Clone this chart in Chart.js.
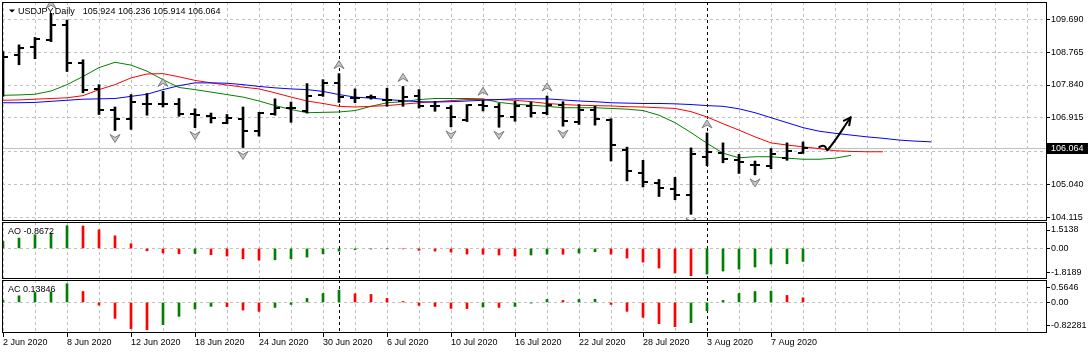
<!DOCTYPE html>
<html>
<head>
	<meta charset="UTF-8">
	<title>USDJPY,Daily</title>
	<script src="https://cdn.jsdelivr.net/npm/chart.js@4.4.1/dist/chart.umd.min.js"></script>
	<style>
		body { margin: 0; background: #fff; }
		#wrap { position: relative; width: 1091px; height: 353px; overflow: hidden; }
		canvas { position: absolute; left: 0; }
		#price { top: 0; }
		#ao { top: 221px; }
		#ac { top: 280px; }
	</style>
</head>
<body>
<div id="wrap">
	<canvas id="price" width="1091" height="221"></canvas>
	<canvas id="ao" width="1091" height="59"></canvas>
	<canvas id="ac" width="1091" height="73"></canvas>
</div>
<script>
	// trading days shown on the chart
	var dates = ['2 Jun 2020','3 Jun 2020','4 Jun 2020','5 Jun 2020','8 Jun 2020','9 Jun 2020','10 Jun 2020','11 Jun 2020','12 Jun 2020',
		'15 Jun 2020','16 Jun 2020','17 Jun 2020','18 Jun 2020','19 Jun 2020','22 Jun 2020','23 Jun 2020','24 Jun 2020','25 Jun 2020','26 Jun 2020',
		'29 Jun 2020','30 Jun 2020','1 Jul 2020','2 Jul 2020','3 Jul 2020','6 Jul 2020','7 Jul 2020','8 Jul 2020','9 Jul 2020','10 Jul 2020',
		'13 Jul 2020','14 Jul 2020','15 Jul 2020','16 Jul 2020','17 Jul 2020','20 Jul 2020','21 Jul 2020','22 Jul 2020','23 Jul 2020','24 Jul 2020',
		'27 Jul 2020','28 Jul 2020','29 Jul 2020','30 Jul 2020','31 Jul 2020','3 Aug 2020','4 Aug 2020','5 Aug 2020','6 Aug 2020','7 Aug 2020',
		'10 Aug 2020','11 Aug 2020'];

	// OHLC
	var opens  = [107.57,108.69,108.90,109.11,109.53,108.46,107.73,107.13,106.89,107.31,107.31,107.31,107.01,106.96,106.78,106.87,106.54,
		107.01,107.20,107.10,107.57,107.91,107.48,107.49,107.43,107.40,107.52,107.25,107.20,106.85,107.27,107.22,106.94,107.24,107.04,
		107.28,106.79,107.15,106.85,106.00,105.37,105.09,104.92,104.73,105.82,105.93,105.74,105.59,105.56,105.79,105.924];
	var highs  = [108.78,108.97,109.18,109.86,109.67,108.55,107.85,107.22,107.57,107.60,107.66,107.46,107.17,107.05,107.01,107.22,107.07,
		107.45,107.36,107.88,107.99,108.16,107.73,107.56,107.75,107.80,107.71,107.38,107.26,107.29,107.41,107.32,107.38,107.36,107.53,
		107.37,107.29,107.24,106.89,106.09,105.72,105.18,105.24,106.07,106.49,106.21,105.89,105.70,106.05,106.21,106.236];
	var lows   = [107.52,108.41,108.58,109.06,108.22,107.62,107.01,106.56,106.59,106.99,107.22,106.96,106.64,106.77,106.75,106.08,106.40,
		106.99,106.79,107.05,107.52,107.35,107.34,107.44,107.24,107.24,107.19,107.10,106.66,106.81,107.11,106.65,106.82,106.94,107.00,
		106.68,106.73,106.71,105.70,105.14,104.97,104.70,104.61,104.20,105.57,105.65,105.35,105.31,105.48,105.72,105.914];
	var closes = [108.64,108.88,109.13,109.53,108.46,107.71,107.13,106.89,107.35,107.30,107.31,107.01,107.00,106.91,106.92,106.54,107.05,
		107.20,107.19,107.54,107.91,107.49,107.47,107.50,107.41,107.50,107.26,107.24,106.94,107.28,107.26,106.96,107.24,107.05,107.28,
		106.82,107.15,106.89,106.15,105.42,105.11,104.93,104.73,105.89,105.95,105.75,105.66,105.58,105.89,105.98,106.064];

	// Alligator lines, they run past the last bar
	var jaw   = [107.34,107.34,107.35,107.38,107.41,107.44,107.45,107.46,107.52,107.58,107.71,107.82,107.90,107.90,107.89,107.85,107.80,
		107.76,107.73,107.71,107.66,107.57,107.50,107.47,107.43,107.40,107.37,107.36,107.37,107.39,107.41,107.43,107.45,107.45,107.45,
		107.42,107.39,107.37,107.34,107.33,107.32,107.32,107.31,107.29,107.26,107.24,107.17,107.06,106.92,106.78,106.64,106.54,106.48,
		106.43,106.38,106.34,106.29,106.26,106.24];
	var teeth = [107.41,107.42,107.44,107.46,107.48,107.54,107.71,107.85,108.04,108.15,108.16,108.07,107.97,107.90,107.84,107.78,107.73,
		107.62,107.50,107.39,107.32,107.24,107.22,107.24,107.26,107.30,107.34,107.37,107.40,107.43,107.43,107.43,107.41,107.37,107.32,
		107.29,107.27,107.26,107.25,107.23,107.22,107.20,107.18,107.09,106.94,106.75,106.57,106.38,106.21,106.15,106.10,106.05,105.99,
		105.97,105.96,105.96];
	var lips  = [107.55,107.56,107.58,107.67,107.85,108.08,108.33,108.48,108.40,108.23,107.99,107.77,107.71,107.64,107.57,107.50,107.39,
		107.26,107.15,107.06,107.07,107.08,107.12,107.24,107.34,107.37,107.43,107.46,107.46,107.46,107.45,107.35,107.30,107.27,107.24,
		107.20,107.20,107.20,107.18,107.16,107.12,106.99,106.78,106.50,106.20,105.92,105.79,105.82,105.82,105.78,105.75,105.75,105.78,
		105.86];

	// Awesome / Accelerator oscillators
	var ao = [0.47,0.69,0.91,1.02,1.5138,1.49,1.24,0.84,0.31,-0.16,-0.31,-0.36,-0.34,-0.42,-0.51,-0.69,-0.78,-0.76,-0.69,-0.58,-0.36,
		-0.18,-0.09,-0.04,-0.02,-0.03,-0.13,-0.18,-0.24,-0.38,-0.39,-0.44,-0.51,-0.44,-0.38,-0.39,-0.31,-0.22,-0.38,-0.64,-0.91,-1.31,
		-1.64,-1.8189,-1.71,-1.51,-1.38,-1.24,-1.04,-1.02,-0.8672];
	var ac = [0.06,0.20,0.30,0.32,0.5646,0.33,-0.08,-0.48,-0.79,-0.82281,-0.67,-0.42,-0.20,-0.12,-0.125,-0.23,-0.27,-0.15,-0.06,0.12,
		0.27,0.37,0.26,0.24,0.12,0.03,-0.09,-0.12,-0.18,-0.185,-0.14,-0.15,-0.12,-0.02,0.09,0.06,0.09,0.095,-0.06,-0.27,-0.45,-0.64,
		-0.73,-0.61,-0.25,0.06,0.27,0.33,0.34,0.21,0.13846];

	var priceTicks = [109.690, 108.765, 107.840, 106.915, 105.978, 105.040, 104.115];

	// hand drawn arrow after the last bar (bar index, price)
	var arrowPath = [[51.02,106.094],[51.23,106.131],[51.39,106.103],[51.54,106.010],[52.98,106.931]];
	var arrowHead = [[52.56,106.835],[52.98,106.931],[52.89,106.705]];

	var last = closes.length - 1;
	var fnt = '9px "Liberation Sans", Arial, sans-serif';
	var xMin = -0.0625, xMax = 65.25;

	function pts(arr) { return arr.map(function (v, i) { return {x: i, y: v}; }); }
	function pairs(arr) { return arr.map(function (p) { return {x: p[0], y: p[1]}; }); }
	function fractals(arr, better) {
		var out = [];
		for (var i = 2; i < arr.length - 2; i++) {
			if (better(arr[i], arr[i-1]) && better(arr[i], arr[i-2]) && better(arr[i], arr[i+1]) && better(arr[i], arr[i+2])) out.push(i);
		}
		return out;
	}
	var upFr = fractals(highs, function (a, b) { return a > b; });
	var dnFr = fractals(lows, function (a, b) { return a < b; });
	var month = function (d) { return d.split(' ')[1]; };
	var seps = [];
	for (var i = 1; i < dates.length; i++) if (month(dates[i]) !== month(dates[i-1])) seps.push(i);
	function histColors(v) { return v.map(function (x, i) { return (i === 0 || x > v[i-1]) ? '#008000' : '#ff0000'; }); }
	var gridSteps = [];
	for (var g = 0; g <= xMax; g += 2) gridSteps.push(g);

	function arrow(ctx, x, ty, d) {
		ctx.beginPath();
		ctx.moveTo(x, ty);
		ctx.lineTo(x + 5, ty + 8 * d);
		ctx.lineTo(x, ty + 5 * d);
		ctx.lineTo(x - 5, ty + 8 * d);
		ctx.closePath();
		ctx.fill();
		ctx.stroke();
	}

	var panePlugin = {
		id: 'pane',
		beforeDatasetsDraw: function (chart, args, o) {
			var ctx = chart.ctx, a = chart.chartArea, x = chart.scales.x, y = chart.scales.y;
			ctx.save();
			ctx.lineWidth = 1;
			if (o.ohlc) {
				var py = Math.round(y.getPixelForValue(closes[last])) + 0.5;
				ctx.strokeStyle = '#c0c0c0';
				ctx.beginPath(); ctx.moveTo(a.left, py); ctx.lineTo(a.right, py); ctx.stroke();
			}
			ctx.strokeStyle = '#000';
			ctx.setLineDash([3, 3]);
			seps.forEach(function (s) {
				var px = Math.round(x.getPixelForValue(s)) + 0.5;
				ctx.beginPath(); ctx.moveTo(px, a.top); ctx.lineTo(px, a.bottom); ctx.stroke();
			});
			ctx.restore();
		},
		afterDatasetsDraw: function (chart, args, o) {
			if (!o.ohlc) return;
			var ctx = chart.ctx, a = chart.chartArea, x = chart.scales.x, y = chart.scales.y;
			ctx.save();
			ctx.beginPath(); ctx.rect(a.left, a.top, a.right - a.left, a.bottom - a.top); ctx.clip();
			ctx.fillStyle = '#000';
			opens.forEach(function (op, i) {
				var px = Math.round(x.getPixelForValue(i));
				ctx.fillRect(px - 5, Math.round(y.getPixelForValue(op)) - 1, 4, 2);
				ctx.fillRect(px + 1, Math.round(y.getPixelForValue(closes[i])) - 1, 4, 2);
			});
			ctx.fillStyle = '#c8c8c8';
			ctx.strokeStyle = '#7a7a7a';
			ctx.lineWidth = 1;
			upFr.forEach(function (i) { arrow(ctx, Math.round(x.getPixelForValue(i)), y.getPixelForValue(highs[i]) - 13, 1); });
			dnFr.forEach(function (i) { arrow(ctx, Math.round(x.getPixelForValue(i)), y.getPixelForValue(lows[i]) + 12, -1); });
			ctx.restore();
		},
		afterDraw: function (chart, args, o) {
			var ctx = chart.ctx, a = chart.chartArea;
			ctx.save();
			ctx.strokeStyle = '#000';
			ctx.lineWidth = 1;
			ctx.strokeRect(a.left + 0.5, a.top + 0.5, a.right - a.left - 1, a.bottom - a.top - 1);
			ctx.font = fnt;
			ctx.fillStyle = '#000';
			ctx.textBaseline = 'middle';
			var ty = a.top + 9.5;
			if (o.ohlc) {
				// header: symbol and last bar OHLC
				ctx.beginPath(); ctx.moveTo(9, ty - 2); ctx.lineTo(15, ty - 2); ctx.lineTo(12, ty + 1); ctx.closePath(); ctx.fill();
				var title = 'USDJPY,Daily';
				ctx.fillText(title, 18, ty);
				var vals = [opens[last], highs[last], lows[last], closes[last]].map(function (v) { return v.toFixed(3); }).join(' ');
				ctx.fillText(vals, 18 + ctx.measureText(title).width + 8, ty);
				// current price box on the scale
				var py = Math.round(chart.scales.y.getPixelForValue(closes[last]));
				ctx.fillRect(a.right, py - 5, 41, 11);
				ctx.fillStyle = '#fff';
				ctx.fillText(closes[last].toFixed(3), a.right + 4, py + 0.5);
			}
			if (o.label) ctx.fillText(o.label, 8, ty);
			ctx.restore();
		}
	};
	Chart.register(panePlugin);

	Chart.defaults.font.family = '"Liberation Sans", Arial, sans-serif';
	Chart.defaults.font.size = 9;
	Chart.defaults.color = '#000';

	function xAxis(showLabels) {
		return {
			type: 'linear', min: xMin, max: xMax, bounds: 'data', offset: false,
			afterBuildTicks: function (s) { s.ticks = gridSteps.map(function (v) { return {value: v}; }); },
			ticks: {
				display: showLabels, autoSkip: false, maxRotation: 0, minRotation: 0, align: 'start', padding: 0,
				callback: function (v) { return (v % 4 === 0 && v <= last) ? dates[v] : ''; }
			},
			grid: {
				offset: false, color: '#c0c0c0', drawTicks: showLabels, tickLength: 4, tickBorderDash: [],
				tickColor: function (c) { return (c.tick && c.tick.value % 4 === 0 && c.tick.value <= last) ? '#000' : 'rgba(0,0,0,0)'; }
			},
			border: {display: false, dash: [3, 3]},
			afterFit: function (s) { s.height = showLabels ? 20 : 0; s.paddingLeft = 0; s.paddingRight = 0; }
		};
	}

	function oscAxis(vals, min, max, inset) {
		var hi = Math.max.apply(null, vals), lo = Math.min.apply(null, vals);
		var labels = [String(hi), '0.00', String(lo)];
		return {
			position: 'right', min: min, max: max, bounds: 'data',
			afterBuildTicks: function (s) { s.ticks = [{value: hi - inset[0]}, {value: 0}, {value: lo + inset[1]}]; },
			ticks: { autoSkip: false, padding: 1, callback: function (v, i) { return labels[i]; } },
			grid: {
				color: function (c) { return (c.tick && c.tick.value === 0) ? '#c0c0c0' : 'rgba(0,0,0,0)'; },
				tickColor: '#000', tickLength: 3, tickBorderDash: []
			},
			border: {display: false, dash: [3, 3]},
			afterFit: function (s) { s.width = 44; s.paddingTop = 0; s.paddingBottom = 0; }
		};
	}

	var common = {
		responsive: false, animation: false, events: [],
		elements: { point: { radius: 0 }, line: { borderWidth: 1, tension: 0, fill: false } }
	};

	new Chart(document.getElementById('price').getContext('2d'), {
		type: 'line',
		data: {
			datasets: [
				{ type: 'bar', data: highs.map(function (h, i) { return {x: i, y: [lows[i], h]}; }), backgroundColor: '#000', barThickness: 2, order: 0 },
				{ data: pts(jaw), borderColor: '#0000ff', order: 2 },
				{ data: pts(teeth), borderColor: '#ff0000', order: 2 },
				{ data: pts(lips), borderColor: '#008000', order: 2 },
				{ data: pairs(arrowPath), borderColor: '#000', borderWidth: 2, tension: 0.4, borderCapStyle: 'round', order: 1 },
				{ data: pairs(arrowHead), borderColor: '#000', borderWidth: 2, borderCapStyle: 'round', borderJoinStyle: 'round', order: 1 }
			]
		},
		options: Object.assign({}, common, {
			layout: { padding: {top: 2, left: 2, right: 0, bottom: 0} },
			scales: {
				x: xAxis(false),
				y: {
					position: 'right', min: 104.011, max: 110.177, bounds: 'data',
					afterBuildTicks: function (s) { s.ticks = priceTicks.map(function (v) { return {value: v}; }); },
					ticks: { autoSkip: false, padding: 1, callback: function (v) { return Math.abs(v - closes[last]) < 0.15 ? '' : v.toFixed(3); } },
					grid: { color: '#c0c0c0', tickColor: '#000', tickLength: 3, tickBorderDash: [] },
					border: {display: false, dash: [3, 3]},
					afterFit: function (s) { s.width = 44; s.paddingTop = 0; s.paddingBottom = 0; }
				}
			},
			plugins: { legend: {display: false}, tooltip: {enabled: false}, pane: {ohlc: true} }
		})
	});

	new Chart(document.getElementById('ao').getContext('2d'), {
		type: 'bar',
		data: { datasets: [ { data: pts(ao), backgroundColor: histColors(ao), barThickness: 2 } ] },
		options: Object.assign({}, common, {
			layout: { padding: {top: 1, left: 2, right: 0, bottom: 1} },
			scales: { x: xAxis(false), y: oscAxis(ao, -2.0389, 1.7604, [0.287, 0.226]) },
			plugins: { legend: {display: false}, tooltip: {enabled: false}, pane: {label: 'AO ' + ao[last]} }
		})
	});

	new Chart(document.getElementById('ac').getContext('2d'), {
		type: 'bar',
		data: { datasets: [ { data: pts(ac), backgroundColor: histColors(ac), barThickness: 2 } ] },
		options: Object.assign({}, common, {
			layout: { padding: {top: 0, left: 2, right: 0, bottom: 0} },
			scales: { x: xAxis(true), y: oscAxis(ac, -0.9223, 0.6762, [0.122, 0.12]) },
			plugins: { legend: {display: false}, tooltip: {enabled: false}, pane: {label: 'AC ' + ac[last]} }
		})
	});
</script>
</body>
</html>
